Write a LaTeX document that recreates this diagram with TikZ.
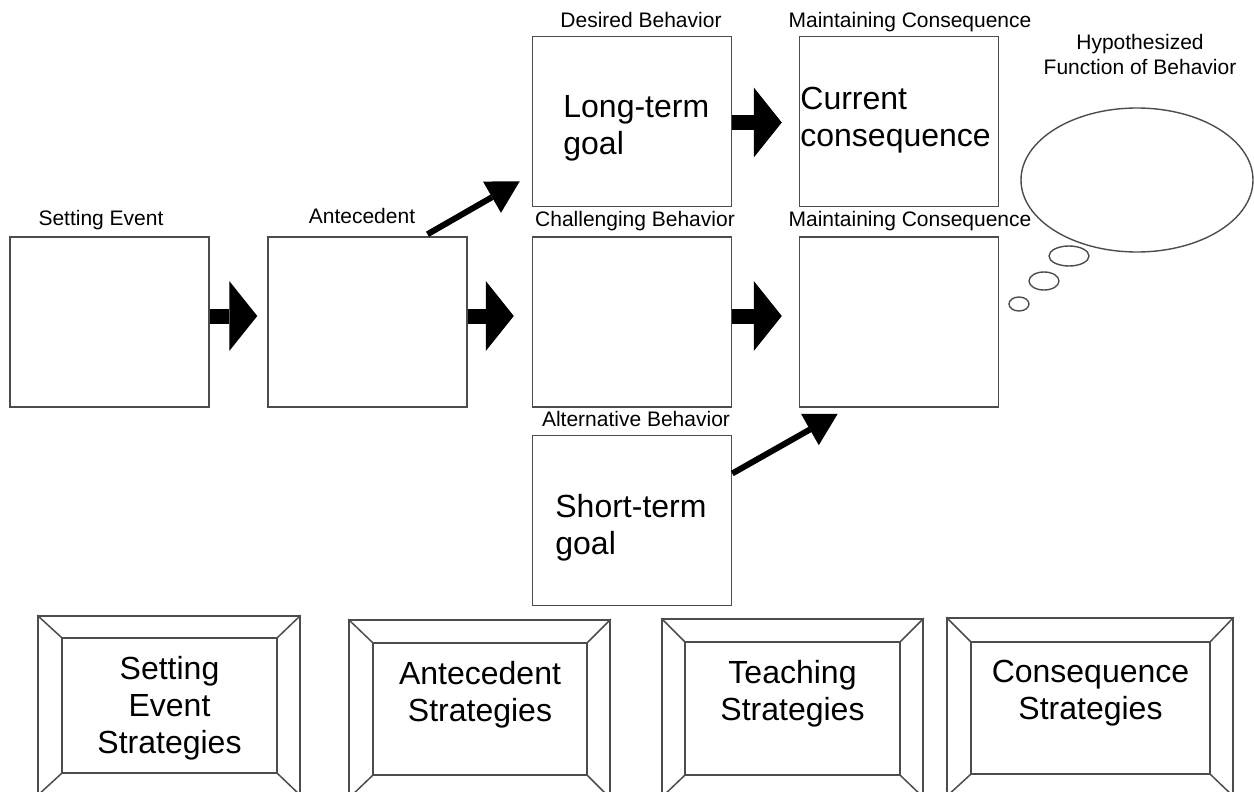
\documentclass[tikz,border=0pt]{standalone}
\usepackage{fontspec}
\setmainfont{Liberation Sans}
\usetikzlibrary{arrows.meta,shapes.geometric,calc}
\begin{document}
\begin{tikzpicture}[x=0.5pt,y=-0.5pt,
  stage/.style={draw=black!70, line width=0.75pt, minimum width=99.5pt, minimum height=85pt, inner sep=0pt},
  caption/.style={font=\fontsize{10.5}{12.5}\selectfont, anchor=base, inner sep=0pt},
  bigtext/.style={font=\fontsize{16}{18.5}\selectfont, align=left, anchor=north west, inner sep=0pt},
  blockarrow/.style={line width=7.5pt, -{Triangle[length=14pt,width=35pt,line width=0pt]}},
  slantarrow/.style={line width=3pt, -{Triangle[length=16pt,width=18pt,line width=0pt]}},
  bevel/.style={draw=black!70, line width=0.75pt, inner sep=0pt},
  bevelline/.style={draw=black!70, line width=0.75pt},
  stratext/.style={font=\fontsize{16}{18.5}\selectfont, align=center, anchor=north, inner sep=0pt},
  bubble/.style={draw=black!70, line width=0.7pt, ellipse, inner sep=0pt}
]
\useasboundingbox (0,0) rectangle (1254,792);
\clip (0,0) rectangle (1254,792);

% behaviour pathway boxes
\node[stage] (se)   at (109.5,322) {};
\node[stage] (ant)  at (367.5,322) {};
\node[stage] (ltg)  at (632,121.5) {};
\node[stage] (cc)   at (899,121.5) {};
\node[stage] (chal) at (632,322) {};
\node[stage] (mc)   at (899,322) {};
\node[stage] (stg)  at (632,520.5) {};

% captions above the boxes
\node[caption] (seL)   at (101,226) {Setting Event};
\node[caption] (antL)  at (362,223) {Antecedent};
\node[caption] (ltgL)  at (641,28)  {Desired Behavior};
\node[caption] (ccL)   at (910,28)  {Maintaining Consequence};
\node[caption] (chalL) at (635,227) {Challenging Behavior};
\node[caption] (mcL)   at (910,227) {Maintaining Consequence};
\node[caption] (stgL)  at (636,426) {Alternative Behavior};

% text inside the boxes
\node[bigtext] (ltgT) at (563,95)  {Long-term\\goal};
\node[bigtext] (ccT)  at (800,87)  {Current\\consequence};
\node[bigtext] (stgT) at (555,494) {Short-term\\goal};

% block arrows along the chain
\draw[blockarrow, shorten >=5pt]   ([yshift=3pt]se.east)   -- ([yshift=3pt]ant.west);
\draw[blockarrow, shorten >=9pt]   ([yshift=3pt]ant.east)  -- ([yshift=3pt]chal.west);
\draw[blockarrow, shorten >=8.5pt] ([yshift=3pt]chal.east) -- ([yshift=3pt]mc.west);
\draw[blockarrow, shorten >=8.5pt] ([yshift=-0.5pt]ltg.east) -- ([yshift=-0.5pt]cc.west);

% slanted arrows
\coordinate (upTip) at ([xshift=-6pt,yshift=13pt]ltg.south west);
\coordinate (dnTip) at ([xshift=19.5pt,yshift=-3pt]mc.south west);
\draw[slantarrow] ([xshift=30pt,yshift=1pt]ant.north) -- (upTip);
\draw[slantarrow] ([yshift=23.5pt]stg.east) -- (dnTip);

% thought bubble
\node[bubble, minimum width=116pt, minimum height=72pt] (fn) at (1137,180) {};
\node[bubble, minimum width=20pt, minimum height=10pt] (b1) at (1069,256) {};
\node[bubble, minimum width=15pt, minimum height=9pt]  (b2) at (1044,281) {};
\node[bubble, minimum width=10pt, minimum height=7pt]  (b3) at (1019,304) {};
\node[caption, align=center, anchor=base] (fnL) at (1140,75) {Hypothesized\\Function of Behavior};

% bevelled strategy frames
\foreach \n/\ox/\oy/\ow/\oh/\ix/\iy/\iw/\ih/\txt in {
  s1/169/705.5/262/179/169.5/705.5/215/135/{Setting\\Event\\Strategies},
  s2/479.5/709/261/178/480/709/214/132/{Antecedent\\Strategies},
  s3/792.5/708/261/178/792.5/708.5/215/133/{Teaching\\Strategies},
  s4/1090/707/286/178/1090.5/708/239/132/{Consequence\\Strategies}} {
  \node[bevel, minimum width=\ow*0.5pt, minimum height=\oh*0.5pt] (\n o) at (\ox,\oy) {};
  \node[bevel, minimum width=\iw*0.5pt, minimum height=\ih*0.5pt] (\n i) at (\ix,\iy) {};
  \draw[bevelline] (\n o.north west) -- (\n i.north west);
  \draw[bevelline] (\n o.north east) -- (\n i.north east);
  \draw[bevelline] (\n o.south west) -- (\n i.south west);
  \draw[bevelline] (\n o.south east) -- (\n i.south east);
  \node[stratext] (\n t) at ([yshift=-9.5pt]\n i.north) {\txt};
}
\end{tikzpicture}
\end{document}
